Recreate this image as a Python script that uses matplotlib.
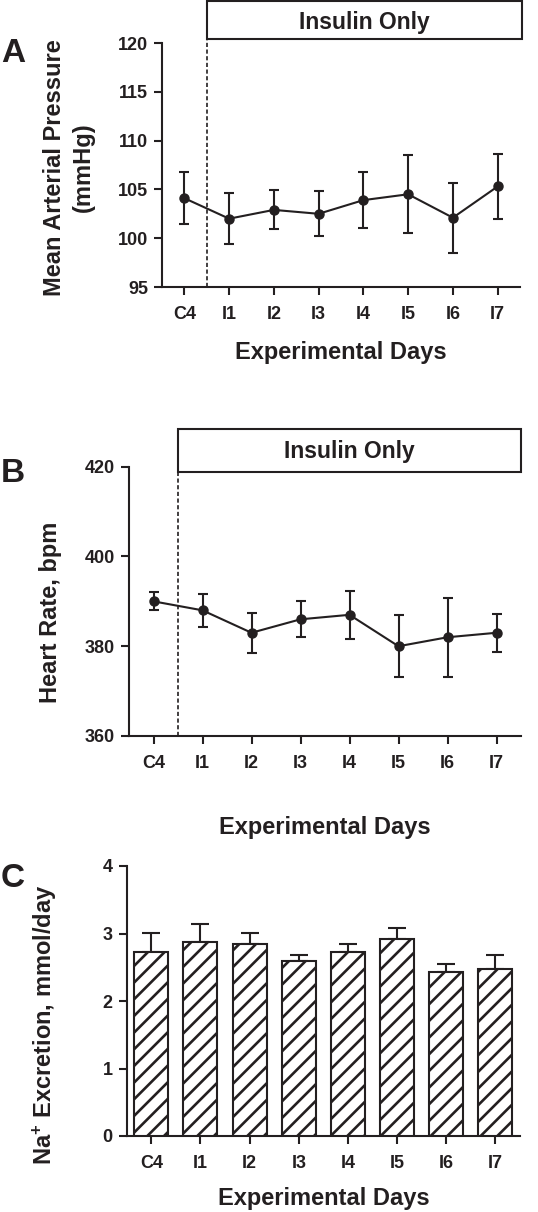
import numpy as np
import matplotlib
matplotlib.use('Agg')
import matplotlib.pyplot as plt
from matplotlib.patches import Rectangle

# dados
days = ['C4', 'I1', 'I2', 'I3', 'I4', 'I5', 'I6', 'I7']
map_mean = [104.1, 102.0, 102.9, 102.5, 103.9, 104.5, 102.1, 105.3]
map_sem = [2.65, 2.6, 2.0, 2.3, 2.85, 4.0, 3.6, 3.3]
hr_mean = [390.0, 388.0, 383.0, 386.0, 387.0, 380.0, 382.0, 383.0]
hr_sem = [2.0, 3.7, 4.4, 4.0, 5.3, 6.9, 8.8, 4.2]
na_mean = [2.72, 2.88, 2.84, 2.59, 2.73, 2.92, 2.43, 2.48]
na_sem = [0.29, 0.26, 0.17, 0.09, 0.12, 0.16, 0.12, 0.20]

ink = '#231f20'
plt.rcParams['font.family'] = ['Liberation Sans', 'DejaVu Sans']
plt.rcParams['font.weight'] = 'bold'
plt.rcParams['axes.labelweight'] = 'bold'
plt.rcParams['mathtext.fontset'] = 'custom'
plt.rcParams['mathtext.bf'] = 'Liberation Sans:bold'
plt.rcParams['mathtext.rm'] = 'Liberation Sans:bold'
plt.rcParams['mathtext.default'] = 'bf'
plt.rcParams['hatch.linewidth'] = 1.9
plt.rcParams['hatch.color'] = ink

fig = plt.figure(figsize=(5.38, 12.12), dpi=100)
W, H = 538.0, 1212.0

def make_ax(left, right, top, bottom):
    ax = fig.add_axes([left / W, 1 - bottom / H, (right - left) / W, (bottom - top) / H])
    ax.spines['top'].set_visible(False)
    ax.spines['right'].set_visible(False)
    for s in ['left', 'bottom']:
        ax.spines[s].set_linewidth(1.5)
        ax.spines[s].set_color(ink)
    ax.tick_params(axis='both', direction='out', length=6, width=1.5, colors=ink,
                   labelsize=13)
    ax.tick_params(axis='x', pad=8)
    ax.tick_params(axis='y', pad=4)
    x = np.arange(len(days))
    ax.set_xticks(x)
    ax.set_xticklabels(days)
    ax.set_xlim(-0.5, 7.5)
    return ax

def insulin_box(ax, bottom, top, text_y, right=1.005):
    x0 = 1.0 / 8
    ax.add_patch(Rectangle((x0, bottom), right - x0, top - bottom, transform=ax.transAxes,
                           facecolor='white', edgecolor=ink, linewidth=1.5, clip_on=False))
    ax.text((x0 + right) / 2, text_y, 'Insulin Only', transform=ax.transAxes,
            ha='center', va='center', fontsize=16.5, fontweight='bold', color=ink)
    ax.plot([x0, x0], [0, bottom], transform=ax.transAxes, color=ink, linewidth=1.2,
            linestyle=(0, (2.5, 1.5)), clip_on=False)

x = np.arange(len(days))

# A - pressao arterial media
ax1 = make_ax(162, 520, 43, 287)
ax1.errorbar(x, map_mean, yerr=map_sem, color=ink, marker='o', markersize=6.5,
             linewidth=1.5, elinewidth=1.5, capsize=3.8, capthick=1.5, clip_on=False)
ax1.set_ylim(95, 120)
ax1.set_yticks([95, 100, 105, 110, 115, 120])
ax1.set_ylabel('Mean Arterial Pressure\n(mmHg)', fontsize=17, color=ink, linespacing=1.3,
               ha='center', va='center')
ax1.yaxis.set_label_coords(-0.26, 0.49)
ax1.set_xlabel('Experimental Days', fontsize=17, color=ink, va='center')
ax1.xaxis.set_label_coords(0.5, -0.27)
insulin_box(ax1, 1.016, 1.172, 1.086)

# B - frequencia cardiaca
ax2 = make_ax(129, 521, 466.7, 736)
ax2.errorbar(x, hr_mean, yerr=hr_sem, color=ink, marker='o', markersize=6.5,
             linewidth=1.5, elinewidth=1.5, capsize=3.8, capthick=1.5, clip_on=False)
ax2.set_ylim(360, 420)
ax2.set_yticks([360, 380, 400, 420])
ax2.set_ylabel('Heart Rate, bpm', fontsize=17, color=ink, ha='center', va='center')
ax2.yaxis.set_label_coords(-0.2, 0.46)
ax2.set_xlabel('Experimental Days', fontsize=17, color=ink, va='center')
ax2.xaxis.set_label_coords(0.5, -0.338)
insulin_box(ax2, 0.981, 1.14, 1.056, right=1.0)

# C - excrecao de sodio
ax3 = make_ax(126.7, 520, 866, 1136)
ax3.bar(x, na_mean, width=0.69, facecolor='white', edgecolor=ink, linewidth=1.5,
        hatch='//', zorder=3)
ax3.errorbar(x, na_mean, yerr=[np.zeros(len(na_sem)), na_sem], fmt='none', ecolor=ink,
             elinewidth=1.5, capsize=6.6, capthick=1.5, zorder=2)
ax3.set_ylim(0, 4)
ax3.set_yticks([0, 1, 2, 3, 4])
ax3.set_ylabel('Na$^{+}$ Excretion, mmol/day', fontsize=17, color=ink, ha='center',
               va='center')
ax3.yaxis.set_label_coords(-0.208, 0.41)
ax3.set_xlabel('Experimental Days', fontsize=17, color=ink, va='center')
ax3.xaxis.set_label_coords(0.5, -0.23)

# letras dos paineis
for lab, yb in [('A', 62), ('B', 482), ('C', 887)]:
    fig.text(1 / W, 1 - yb / H, lab, fontsize=24, fontweight='bold', color=ink,
             ha='left', va='baseline')

fig.savefig('out.png', dpi=100)
